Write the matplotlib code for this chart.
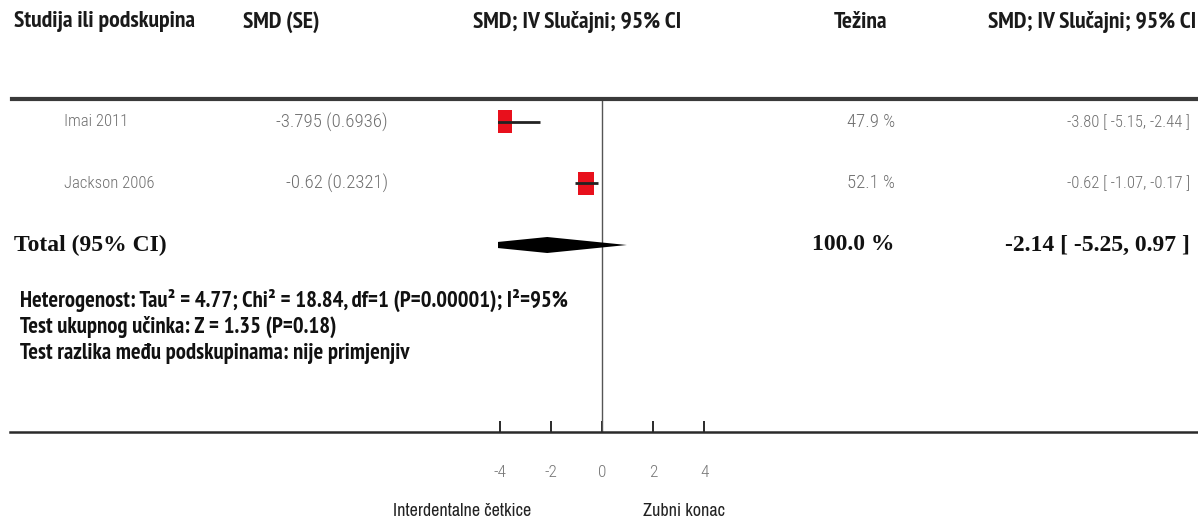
import matplotlib
matplotlib.use("Agg")
import matplotlib.pyplot as plt
from matplotlib.patches import Rectangle, Polygon
from matplotlib.lines import Line2D

# ---- data ----
studies = ["Imai 2011", "Jackson 2006"]
smd = [-3.795, -0.62]
se = [0.6936, 0.2321]
est = [-3.80, -0.62]
ci_low = [-5.15, -1.07]
ci_high = [-2.44, -0.17]
weights = [47.9, 52.1]
total_est = -2.14
total_low = -5.25
total_high = 0.97
total_weight = 100.0
xticks = [-4, -2, 0, 2, 4]
headers = ["Studija ili podskupina", "SMD (SE)", "SMD; IV Slučajni; 95% CI", "Težina", "SMD; IV Slučajni; 95% CI"]
stats_lines = [
    "Heterogenost: Tau² = 4.77; Chi² = 18.84, df=1 (P=0.00001); I²=95%",
    "Test ukupnog učinka: Z = 1.35 (P=0.18)",
    "Test razlika među podskupinama: nije primjenjiv",
]
left_label = "Interdentalne četkice"
right_label = "Zubni konac"

W, H = 1198, 525
fig = plt.figure(figsize=(W / 100, H / 100), dpi=100)
fig.patch.set_facecolor("white")

HEAD = ["PT Sans Narrow", "DejaVu Sans"]
ROWF = ["Roboto Condensed", "DejaVu Sans"]
NARROW = ["Archivo Narrow", "DejaVu Sans"]
SERIF = ["Liberation Serif", "DejaVu Serif"]


def ftext(x, y, s, **kw):
    fig.text(x / W, 1 - y / H, s, **kw)


def fline(x0, x1, y0, y1, **kw):
    fig.add_artist(Line2D([x0 / W, x1 / W], [1 - y0 / H, 1 - y1 / H], transform=fig.transFigure, **kw))


# headers
hkw = dict(family=HEAD, fontsize=17, fontweight="bold", color="#1a1a1a", va="center")
ftext(14, 22, headers[0], ha="left", **hkw)
ftext(243, 22, headers[1], ha="left", **hkw)
ftext(577, 22, headers[2], ha="center", **hkw)
ftext(860, 22, headers[3], ha="center", **hkw)
ftext(1196, 22, headers[4], ha="right", **hkw)

# horizontal rules
fline(12, 1198, 99, 99, color="#3a3a3a", lw=3)
fline(10, 1198, 432, 432, color="#2a2a2a", lw=1.8)

# forest axes: x from 498 px to 710 px, y from 99 to 432 px
ax_l, ax_r, ax_t, ax_b = 498, 710, 99, 432
ax = fig.add_axes([ax_l / W, 1 - ax_b / H, (ax_r - ax_l) / W, (ax_b - ax_t) / H])
ppu = 25.6  # px per unit
x0px = 602
ax.set_xlim((ax_l - x0px) / ppu, (ax_r - x0px) / ppu)
row_h = 61.5
row0 = 122
ax.set_ylim((ax_b - row0) / row_h, (ax_t - row0) / row_h)
ax.patch.set_alpha(0)
for s in ax.spines.values():
    s.set_visible(False)
ax.set_yticks([])
ax.set_xticks(xticks)
ax.set_xticklabels([str(t) for t in xticks], family=ROWF, fontweight="light", fontsize=12.5, color="#777777")
ax.tick_params(axis="x", direction="in", length=8, width=1.4, color="#2a2a2a", pad=24)
ax.axvline(0, color="#555555", lw=1)

for i in range(len(studies)):
    ax.plot([ci_low[i], ci_high[i]], [i, i], color="#222222", lw=2, solid_capstyle="butt", zorder=3)
    w = weights[i] * 0.0115
    h = 23 / row_h
    ax.add_patch(Rectangle((est[i] - w / 2, i - h / 2), w, h, facecolor="#e8101c", edgecolor="none", zorder=2))

ty = 2
dh = 8 / row_h
ax.add_patch(Polygon([(total_low, ty), (total_est, ty - dh), (total_high, ty), (total_est, ty + dh)],
                     closed=True, facecolor="black", edgecolor="none", zorder=3))

# study rows text
gray = "#6e6e6e"
for i, (name, m, s_, wt, e, lo, hi) in enumerate(zip(studies, smd, se, weights, est, ci_low, ci_high)):
    y = row0 + i * row_h
    kw = dict(family=ROWF, fontweight="light", color=gray, va="center")
    ftext(64, y, name, ha="left", fontsize=12, **kw)
    ftext(388, y, f"{m:g} ({s_:g})", ha="right", fontsize=13.5, **kw)
    ftext(895, y, f"{wt:.1f} %", ha="right", fontsize=13.5, **kw)
    ftext(1190, y, f"{e:.2f} [ {lo:.2f}, {hi:.2f} ]", ha="right", fontsize=12, **kw)

yt = row0 + 2 * row_h
tkw = dict(family=SERIF, fontsize=17, fontweight="bold", color="#111111", va="center")
ftext(14, yt, "Total (95% CI)", ha="left", **tkw)
ftext(895, yt, f"{total_weight:.1f} %", ha="right", **tkw)
ftext(1190, yt, f"{total_est:.2f} [ {total_low:.2f}, {total_high:.2f} ]", ha="right", **tkw)

for k, line in enumerate(stats_lines):
    ftext(20, 300 + k * 26.5, line, family=HEAD, fontsize=16.3, fontweight="bold", color="#111111", va="center", ha="left")

ftext(462, 511, left_label, family=NARROW, fontsize=13, color="#222222", va="center", ha="center")
ftext(684, 511, right_label, family=NARROW, fontsize=13, color="#222222", va="center", ha="center")

fig.savefig("out.png", dpi=100, facecolor="white")
